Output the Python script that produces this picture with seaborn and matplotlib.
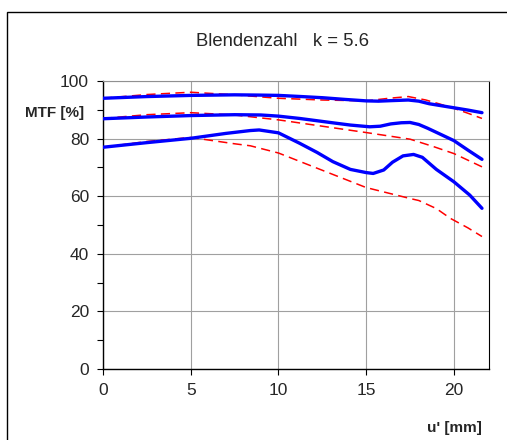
import numpy as np
import pandas as pd
import matplotlib
matplotlib.use("Agg")
import matplotlib.pyplot as plt
from matplotlib.patches import Rectangle
from matplotlib.ticker import MultipleLocator
import seaborn as sns

# ---- data ----
blue_top_x = [0, 2.5, 5, 7.5, 9, 10, 11.3, 12.5, 13.8, 15, 15.7, 16.5, 17.4, 18, 18.6, 19.3, 20, 20.8, 21.6]
blue_top_y = [94.0, 94.6, 95.0, 95.2, 95.1, 95.0, 94.6, 94.2, 93.6, 93.1, 93.0, 93.2, 93.4, 93.0, 92.1, 91.4, 90.7, 89.9, 89.0]
red_top_x = [0, 2.5, 5, 7.5, 10, 12.5, 15, 16.3, 17.4, 18.4, 19.2, 20, 20.8, 21.6]
red_top_y = [94.0, 95.3, 96.1, 95.2, 94.0, 93.4, 93.1, 94.0, 94.6, 93.4, 92.0, 90.5, 88.8, 87.0]

blue_mid_x = [0, 2.5, 5, 7.5, 9, 10, 11.2, 12.2, 13.2, 14.1, 15.2, 15.8, 16.4, 17.0, 17.5, 18.0, 18.5, 19.2, 20, 20.8, 21.6]
blue_mid_y = [86.9, 87.5, 88.0, 88.3, 88.2, 87.8, 87.0, 86.2, 85.4, 84.7, 84.1, 84.3, 85.1, 85.5, 85.6, 84.9, 83.6, 81.6, 79.3, 76.0, 72.8]
red_mid_x = [0, 2.5, 5, 7.5, 10, 12.5, 15, 17.5, 18.8, 20, 20.8, 21.6]
red_mid_y = [87.0, 88.3, 89.0, 88.2, 86.5, 84.3, 82.1, 79.8, 77.3, 74.8, 72.5, 70.2]

blue_low_x = [0, 2.5, 5, 7, 8.4, 8.9, 10, 11.2, 12.2, 13.1, 14.1, 15.0, 15.4, 16.0, 16.5, 17.1, 17.7, 18.2, 19.0, 20.0, 20.9, 21.6]
blue_low_y = [77.0, 78.6, 80.1, 81.8, 82.8, 83.0, 82.0, 78.4, 75.2, 72.0, 69.3, 68.2, 67.9, 69.1, 71.8, 74.0, 74.5, 73.5, 69.3, 65.0, 60.4, 55.8]
red_low_x = [0, 2.5, 5, 7.5, 8.4, 10, 12.5, 15, 17.5, 18, 19, 19.8, 20.8, 21.6]
red_low_y = [77.0, 79.0, 80.4, 78.2, 77.5, 75.0, 69.0, 63.0, 59.2, 58.5, 55.7, 52.3, 49.0, 46.0]

x_ticks = [0, 5, 10, 15, 20]
y_ticks = [0, 20, 40, 60, 80, 100]
title_text = "Blendenzahl   k = 5.6"
y_label = "MTF [%]"
x_label = "u' [mm]"

sns.set_style("white")
plt.rcParams['font.family'] = ['Liberation Sans', 'DejaVu Sans']

fig = plt.figure(figsize=(5.07, 4.40), dpi=100)
W, H = 507, 440
ax = fig.add_axes([103 / W, 1 - 369 / H, (489 - 103) / W, (369 - 81) / H])

# figure frame
fig.patches.append(Rectangle((7 / W, -0.1), 1.2, 1 - 12 / H + 0.1, transform=fig.transFigure,
                             fill=False, edgecolor='black', linewidth=1.0))

series = [
    (red_top_x, red_top_y, 'dash'),
    (red_mid_x, red_mid_y, 'dash'),
    (red_low_x, red_low_y, 'dash'),
    (blue_top_x, blue_top_y, 'solid'),
    (blue_mid_x, blue_mid_y, 'solid'),
    (blue_low_x, blue_low_y, 'solid'),
]
for xs, ys, style in series:
    df = pd.DataFrame({'x': xs, 'y': ys})
    if style == 'dash':
        sns.lineplot(data=df, x='x', y='y', ax=ax, color='#ff0000', linewidth=1.1,
                     estimator=None, sort=False, zorder=3)
        ax.lines[-1].set_dashes([6, 3.5])
    else:
        sns.lineplot(data=df, x='x', y='y', ax=ax, color='#0000ff', linewidth=2.4,
                     estimator=None, sort=False, zorder=4)
        ax.lines[-1].set_solid_joinstyle('round')

ax.set_xlim(0, 22)
ax.set_ylim(0, 100)
ax.set_xticks(x_ticks)
ax.set_yticks(y_ticks)
ax.yaxis.set_minor_locator(MultipleLocator(10))
ax.grid(True, which='major', color='#a0a0a0', linewidth=0.8)
ax.tick_params(axis='both', which='major', direction='out', length=4, width=0.8,
               color='black', labelsize=12.5, pad=6, left=True, bottom=True)
ax.tick_params(axis='y', which='minor', direction='out', length=4, width=0.8, color='black', left=True)
ax.set_xlabel('')
ax.set_ylabel('')
for s in ['left', 'bottom']:
    ax.spines[s].set_color('black')
    ax.spines[s].set_linewidth(1.0)
ax.spines['top'].set_color('#909090')
ax.spines['right'].set_color('black')
ax.spines['right'].set_linewidth(0.8)

fig.text(282 / W, 1 - 42 / H, title_text, ha='center', va='center', fontsize=13.3)
fig.text(55 / W, 1 - 113 / H, y_label, ha='center', va='center', fontsize=11, fontweight='bold')
fig.text(482 / W, 1 - 428 / H, x_label, ha='right', va='center', fontsize=11, fontweight='bold')

fig.savefig('out.png', dpi=100)
